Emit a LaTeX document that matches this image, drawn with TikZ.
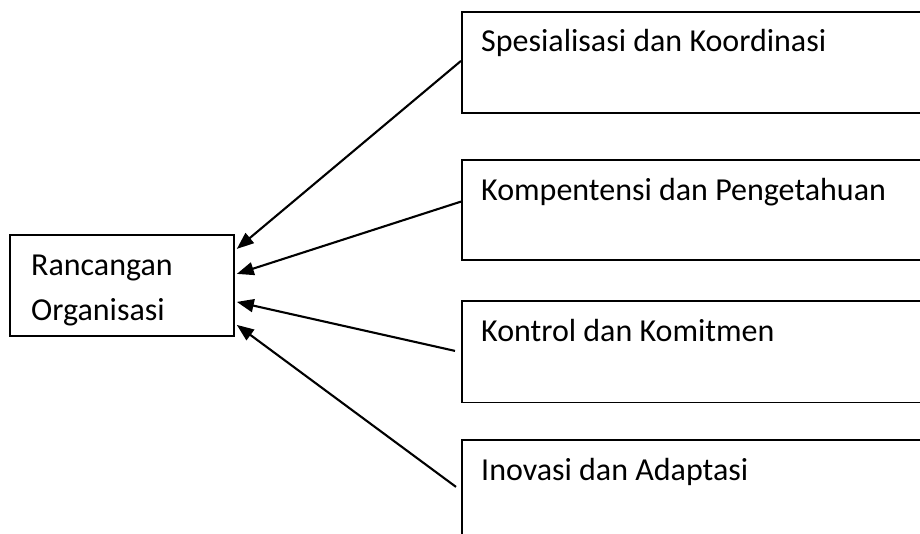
\documentclass[tikz,border=0pt]{standalone}
\usepackage{fontspec}
\setmainfont{Carlito}
\usetikzlibrary{arrows.meta}
\tikzset{
  frame/.style={draw=black, line width=1.8pt, rectangle, inner sep=0pt},
  label/.style={inner sep=0pt, anchor=base west, font=\fontsize{32}{44}\selectfont},
  arr/.style={draw=black, line width=2.1pt, -{Triangle[length=17pt,width=13pt]}}
}
\begin{document}
\begin{tikzpicture}[x=1pt, y=-1pt]
  \useasboundingbox (0,0) rectangle (920,534);
  \fill[white] (0,0) rectangle (920,534);
  \clip (0,0) rectangle (920,534);

  % target box
  \node[frame, anchor=north west, minimum width=224pt, minimum height=101pt] (L) at (9,234) {};
  \node[label] (L1) at (31,276) {Rancangan};
  \node[label] (L2) at (31,320) {Organisasi};

  % source boxes (run past the right edge)
  \node[frame, anchor=north west, minimum width=540pt, minimum height=101pt] (s1) at (461,11) {};
  \node[frame, anchor=north west, minimum width=540pt, minimum height=100pt] (s2) at (461,159) {};
  \node[frame, anchor=north west, minimum width=540pt, minimum height=101pt] (s3) at (461,300.5) {};
  \node[frame, anchor=north west, minimum width=540pt, minimum height=101pt] (s4) at (461,439) {};

  \node[label] (t1) at ([xshift=20pt, yshift=-40.7pt]s1.north west) {Spesialisasi dan Koordinasi};
  \node[label] (t2) at ([xshift=20pt, yshift=-41.7pt]s2.north west) {Kompentensi dan Pengetahuan};
  \node[label] (t3) at ([xshift=20pt, yshift=-40.5pt]s3.north west) {Kontrol dan Komitmen};
  \node[label] (t4) at ([xshift=20pt, yshift=-41pt]s4.north west) {Inovasi dan Adaptasi};

  % connectors
  \draw[arr] ([yshift=1.5pt]s1.west) -- ([xshift=2pt, yshift=36.5pt]L.east);
  \draw[arr] ([yshift=8.3pt]s2.west) -- ([xshift=2pt, yshift=11.5pt]L.east);
  \draw[arr] ([xshift=-6pt, yshift=1pt]s3.west) -- ([xshift=2pt, yshift=-16.5pt]L.east);
  \draw[arr] ([xshift=-5pt, yshift=3.5pt]s4.west) -- ([xshift=2pt, yshift=-39.5pt]L.east);
\end{tikzpicture}
\end{document}
